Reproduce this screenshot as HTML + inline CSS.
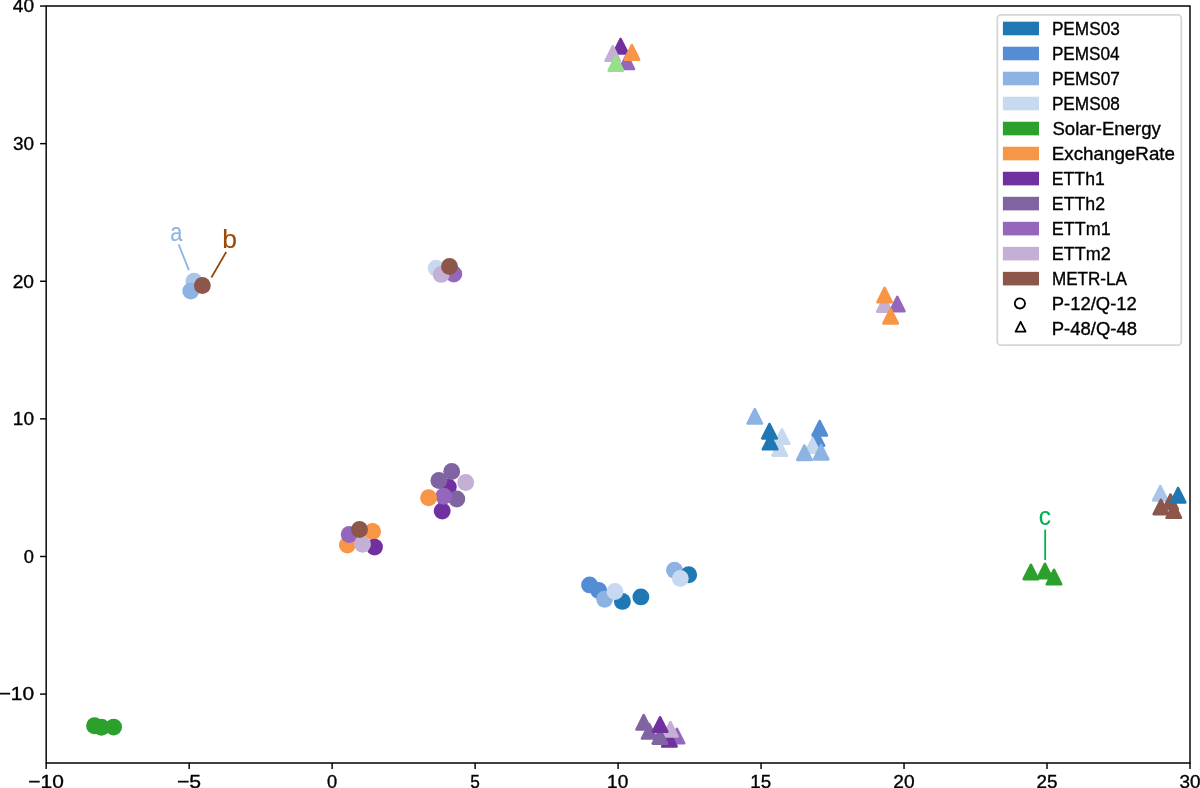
<!DOCTYPE html><html><head><meta charset="utf-8"><style>html,body{margin:0;padding:0;background:#fff;}svg{display:block;will-change:transform;}text{font-family:"Liberation Sans",sans-serif;}</style></head><body>
<svg width="1200" height="788" viewBox="0 0 1200 788">
<rect width="1200" height="788" fill="#fff"/>
<g>
<circle cx="194.0" cy="281.3" r="8.45" fill="#a9c5e9"/>
<circle cx="190.75" cy="290.95" r="8.45" fill="#8db3e2"/>
<circle cx="202.35" cy="285.5" r="8.45" fill="#8c564b"/>
<circle cx="436.1" cy="268.2" r="8.45" fill="#c6d9f0"/>
<circle cx="453.8" cy="274.0" r="8.45" fill="#9467bd"/>
<circle cx="441.2" cy="274.4" r="8.45" fill="#c5b0d5"/>
<circle cx="449.5" cy="266.5" r="8.45" fill="#8c564b"/>
<circle cx="448.3" cy="487.0" r="8.45" fill="#7030a0"/>
<circle cx="442.2" cy="511.0" r="8.45" fill="#7030a0"/>
<circle cx="451.7" cy="471.5" r="8.45" fill="#8064a2"/>
<circle cx="438.9" cy="480.5" r="8.45" fill="#8064a2"/>
<circle cx="456.8" cy="499.0" r="8.45" fill="#8064a2"/>
<circle cx="443.7" cy="496.3" r="8.45" fill="#9467bd"/>
<circle cx="465.7" cy="482.5" r="8.45" fill="#c5b0d5"/>
<circle cx="428.6" cy="497.8" r="8.45" fill="#f79646"/>
<circle cx="372.6" cy="531.4" r="8.45" fill="#f79646"/>
<circle cx="347.4" cy="545.0" r="8.45" fill="#f79646"/>
<circle cx="374.5" cy="547.1" r="8.45" fill="#7030a0"/>
<circle cx="349.2" cy="534.5" r="8.45" fill="#9467bd"/>
<circle cx="362.5" cy="544.2" r="8.45" fill="#c5b0d5"/>
<circle cx="359.5" cy="529.5" r="8.45" fill="#8c564b"/>
<circle cx="589.6" cy="584.9" r="8.45" fill="#548dd4"/>
<circle cx="598.7" cy="590.4" r="8.45" fill="#548dd4"/>
<circle cx="604.6" cy="599.3" r="8.45" fill="#8db3e2"/>
<circle cx="622.4" cy="601.4" r="8.45" fill="#1f77b4"/>
<circle cx="640.9" cy="596.9" r="8.45" fill="#1f77b4"/>
<circle cx="615.0" cy="591.5" r="8.45" fill="#c6d9f0"/>
<circle cx="674.5" cy="570.3" r="8.45" fill="#8db3e2"/>
<circle cx="688.7" cy="574.8" r="8.45" fill="#1f77b4"/>
<circle cx="680.3" cy="578.5" r="8.45" fill="#c6d9f0"/>
<circle cx="94.5" cy="725.8" r="8.45" fill="#2ca02c"/>
<circle cx="101.4" cy="727.2" r="8.45" fill="#2ca02c"/>
<circle cx="113.6" cy="727.1" r="8.45" fill="#2ca02c"/>
</g><g stroke-linejoin="round" stroke-width="2.6">
<path d="M620.60,39.00L613.40,53.40L627.80,53.40Z" fill="#7030a0" stroke="#7030a0"/>
<path d="M612.70,46.40L605.50,60.80L619.90,60.80Z" fill="#c5b0d5" stroke="#c5b0d5"/>
<path d="M626.80,54.60L619.60,69.00L634.00,69.00Z" fill="#9467bd" stroke="#9467bd"/>
<path d="M631.90,45.20L624.70,59.60L639.10,59.60Z" fill="#f79646" stroke="#f79646"/>
<path d="M615.90,56.20L608.70,70.60L623.10,70.60Z" fill="#98df8a" stroke="#98df8a"/>
<path d="M884.40,297.20L877.20,311.60L891.60,311.60Z" fill="#c5b0d5" stroke="#c5b0d5"/>
<path d="M897.30,296.90L890.10,311.30L904.50,311.30Z" fill="#9467bd" stroke="#9467bd"/>
<path d="M884.60,287.90L877.40,302.30L891.80,302.30Z" fill="#f79646" stroke="#f79646"/>
<path d="M890.60,309.00L883.40,323.40L897.80,323.40Z" fill="#f79646" stroke="#f79646"/>
<path d="M754.80,409.10L747.60,423.50L762.00,423.50Z" fill="#8db3e2" stroke="#8db3e2"/>
<path d="M782.00,429.30L774.80,443.70L789.20,443.70Z" fill="#c6d9f0" stroke="#c6d9f0"/>
<path d="M779.70,441.30L772.50,455.70L786.90,455.70Z" fill="#c6d9f0" stroke="#c6d9f0"/>
<path d="M769.50,424.00L762.30,438.40L776.70,438.40Z" fill="#1f77b4" stroke="#1f77b4"/>
<path d="M770.10,434.90L762.90,449.30L777.30,449.30Z" fill="#1f77b4" stroke="#1f77b4"/>
<path d="M816.90,431.30L809.70,445.70L824.10,445.70Z" fill="#548dd4" stroke="#548dd4"/>
<path d="M812.60,438.30L805.40,452.70L819.80,452.70Z" fill="#c6d9f0" stroke="#c6d9f0"/>
<path d="M819.70,421.00L812.50,435.40L826.90,435.40Z" fill="#548dd4" stroke="#548dd4"/>
<path d="M804.40,445.50L797.20,459.90L811.60,459.90Z" fill="#8db3e2" stroke="#8db3e2"/>
<path d="M821.10,445.00L813.90,459.40L828.30,459.40Z" fill="#8db3e2" stroke="#8db3e2"/>
<path d="M1160.30,486.00L1153.10,500.40L1167.50,500.40Z" fill="#a9c5e9" stroke="#a9c5e9"/>
<path d="M1160.90,499.80L1153.70,514.20L1168.10,514.20Z" fill="#8c564b" stroke="#8c564b"/>
<path d="M1170.50,494.50L1163.30,508.90L1177.70,508.90Z" fill="#8c564b" stroke="#8c564b"/>
<path d="M1173.80,503.40L1166.60,517.80L1181.00,517.80Z" fill="#8c564b" stroke="#8c564b"/>
<path d="M1178.10,488.00L1170.90,502.40L1185.30,502.40Z" fill="#1f77b4" stroke="#1f77b4"/>
<path d="M1030.90,564.80L1023.70,579.20L1038.10,579.20Z" fill="#2ca02c" stroke="#2ca02c"/>
<path d="M1044.90,563.80L1037.70,578.20L1052.10,578.20Z" fill="#2ca02c" stroke="#2ca02c"/>
<path d="M1054.00,569.90L1046.80,584.30L1061.20,584.30Z" fill="#2ca02c" stroke="#2ca02c"/>
<path d="M643.70,715.10L636.50,729.50L650.90,729.50Z" fill="#8064a2" stroke="#8064a2"/>
<path d="M649.20,724.10L642.00,738.50L656.40,738.50Z" fill="#8064a2" stroke="#8064a2"/>
<path d="M676.90,728.80L669.70,743.20L684.10,743.20Z" fill="#9467bd" stroke="#9467bd"/>
<path d="M669.40,732.10L662.20,746.50L676.60,746.50Z" fill="#7030a0" stroke="#7030a0"/>
<path d="M670.40,722.10L663.20,736.50L677.60,736.50Z" fill="#c5b0d5" stroke="#c5b0d5"/>
<path d="M659.90,729.30L652.70,743.70L667.10,743.70Z" fill="#8064a2" stroke="#8064a2"/>
<path d="M660.10,717.30L652.90,731.70L667.30,731.70Z" fill="#7030a0" stroke="#7030a0"/>
</g>
<line x1="178.6" y1="244.4" x2="188.9" y2="270.2" stroke="#8db3e2" stroke-width="1.8"/>
<line x1="226.2" y1="252.0" x2="211.4" y2="277.5" stroke="#984807" stroke-width="1.8"/>
<line x1="1045.2" y1="529.6" x2="1045.2" y2="560.0" stroke="#00b050" stroke-width="1.8"/>
<text x="170.27" y="240.92" font-size="25.45" textLength="12.15" lengthAdjust="spacingAndGlyphs" fill="#8db3e2" stroke="#8db3e2" stroke-width="0.12">a</text>
<text x="222.15" y="247.55" font-size="25.62" textLength="14.72" lengthAdjust="spacingAndGlyphs" fill="#984807" stroke="#984807" stroke-width="0.12">b</text>
<text x="1038.73" y="524.52" font-size="25.45" textLength="12.15" lengthAdjust="spacingAndGlyphs" fill="#00b050" stroke="#00b050" stroke-width="0.12">c</text>
<path d="M46.17,6.04H1190.0V762.9H46.17Z" stroke="#000" stroke-width="1.45" fill="none"/>
<g stroke="#000" stroke-width="1.45">
<line x1="46.17" y1="762.9" x2="46.17" y2="769.00"/>
<line x1="189.15" y1="762.9" x2="189.15" y2="769.00"/>
<line x1="332.13" y1="762.9" x2="332.13" y2="769.00"/>
<line x1="475.11" y1="762.9" x2="475.11" y2="769.00"/>
<line x1="618.08" y1="762.9" x2="618.08" y2="769.00"/>
<line x1="761.06" y1="762.9" x2="761.06" y2="769.00"/>
<line x1="904.04" y1="762.9" x2="904.04" y2="769.00"/>
<line x1="1047.02" y1="762.9" x2="1047.02" y2="769.00"/>
<line x1="1190.00" y1="762.9" x2="1190.00" y2="769.00"/>
<line x1="40.07" y1="6.04" x2="46.17" y2="6.04"/>
<line x1="40.07" y1="143.65" x2="46.17" y2="143.65"/>
<line x1="40.07" y1="281.26" x2="46.17" y2="281.26"/>
<line x1="40.07" y1="418.87" x2="46.17" y2="418.87"/>
<line x1="40.07" y1="556.48" x2="46.17" y2="556.48"/>
<line x1="40.07" y1="694.09" x2="46.17" y2="694.09"/>
</g>
<text x="28.30" y="787.94" font-size="18.54" textLength="35.49" lengthAdjust="spacingAndGlyphs" fill="#000" stroke="#000" stroke-width="0.35">−10</text>
<text x="176.98" y="787.73" font-size="18.50" textLength="24.17" lengthAdjust="spacingAndGlyphs" fill="#000" stroke="#000" stroke-width="0.35">−5</text>
<text x="327.02" y="787.94" font-size="18.54" textLength="10.18" lengthAdjust="spacingAndGlyphs" fill="#000" stroke="#000" stroke-width="0.35">0</text>
<text x="470.34" y="787.73" font-size="18.50" textLength="9.57" lengthAdjust="spacingAndGlyphs" fill="#000" stroke="#000" stroke-width="0.35">5</text>
<text x="607.12" y="787.94" font-size="18.54" textLength="21.21" lengthAdjust="spacingAndGlyphs" fill="#000" stroke="#000" stroke-width="0.35">10</text>
<text x="750.32" y="787.73" font-size="18.50" textLength="20.86" lengthAdjust="spacingAndGlyphs" fill="#000" stroke="#000" stroke-width="0.35">15</text>
<text x="893.26" y="787.94" font-size="18.54" textLength="21.35" lengthAdjust="spacingAndGlyphs" fill="#000" stroke="#000" stroke-width="0.35">20</text>
<text x="1036.44" y="787.94" font-size="18.54" textLength="21.01" lengthAdjust="spacingAndGlyphs" fill="#000" stroke="#000" stroke-width="0.35">25</text>
<text x="1179.47" y="787.94" font-size="18.54" textLength="21.06" lengthAdjust="spacingAndGlyphs" fill="#000" stroke="#000" stroke-width="0.35">30</text>
<text x="12.78" y="12.42" font-size="18.54" textLength="21.26" lengthAdjust="spacingAndGlyphs" fill="#000" stroke="#000" stroke-width="0.35">40</text>
<text x="12.96" y="150.03" font-size="18.54" textLength="21.06" lengthAdjust="spacingAndGlyphs" fill="#000" stroke="#000" stroke-width="0.35">30</text>
<text x="12.69" y="287.64" font-size="18.54" textLength="21.35" lengthAdjust="spacingAndGlyphs" fill="#000" stroke="#000" stroke-width="0.35">20</text>
<text x="12.82" y="425.25" font-size="18.54" textLength="21.21" lengthAdjust="spacingAndGlyphs" fill="#000" stroke="#000" stroke-width="0.35">10</text>
<text x="23.82" y="562.86" font-size="18.54" textLength="10.18" lengthAdjust="spacingAndGlyphs" fill="#000" stroke="#000" stroke-width="0.35">0</text>
<text x="-1.39" y="700.47" font-size="18.54" textLength="35.49" lengthAdjust="spacingAndGlyphs" fill="#000" stroke="#000" stroke-width="0.35">−10</text>
<rect x="997.35" y="14.9" width="183.95" height="330.2" rx="3.47" ry="3.47" fill="#fff" fill-opacity="0.8" stroke="#d6d6d6" stroke-width="1.75"/>
<rect x="1002.9" y="21.67" width="36.1" height="13.6" fill="#1f77b4"/>
<text x="1051.89" y="34.50" font-size="18.4" textLength="67.98" lengthAdjust="spacingAndGlyphs" fill="#000" stroke="#000" stroke-width="0.35">PEMS03</text>
<rect x="1002.9" y="46.69" width="36.1" height="13.6" fill="#548dd4"/>
<text x="1051.89" y="59.52" font-size="18.4" textLength="67.73" lengthAdjust="spacingAndGlyphs" fill="#000" stroke="#000" stroke-width="0.35">PEMS04</text>
<rect x="1002.9" y="71.70" width="36.1" height="13.6" fill="#8db3e2"/>
<text x="1051.89" y="84.53" font-size="18.4" textLength="68.08" lengthAdjust="spacingAndGlyphs" fill="#000" stroke="#000" stroke-width="0.35">PEMS07</text>
<rect x="1002.9" y="96.72" width="36.1" height="13.6" fill="#c6d9f0"/>
<text x="1051.89" y="109.55" font-size="18.4" textLength="67.98" lengthAdjust="spacingAndGlyphs" fill="#000" stroke="#000" stroke-width="0.35">PEMS08</text>
<rect x="1002.9" y="121.74" width="36.1" height="13.6" fill="#2ca02c"/>
<text x="1052.45" y="134.57" font-size="18.4" textLength="108.39" lengthAdjust="spacingAndGlyphs" fill="#000" stroke="#000" stroke-width="0.35">Solar-Energy</text>
<rect x="1002.9" y="146.75" width="36.1" height="13.6" fill="#f79646"/>
<text x="1051.76" y="159.58" font-size="18.4" textLength="123.27" lengthAdjust="spacingAndGlyphs" fill="#000" stroke="#000" stroke-width="0.35">ExchangeRate</text>
<rect x="1002.9" y="171.77" width="36.1" height="13.6" fill="#7030a0"/>
<text x="1051.85" y="184.60" font-size="18.4" textLength="52.91" lengthAdjust="spacingAndGlyphs" fill="#000" stroke="#000" stroke-width="0.35">ETTh1</text>
<rect x="1002.9" y="196.79" width="36.1" height="13.6" fill="#8064a2"/>
<text x="1051.84" y="209.62" font-size="18.4" textLength="53.26" lengthAdjust="spacingAndGlyphs" fill="#000" stroke="#000" stroke-width="0.35">ETTh2</text>
<rect x="1002.9" y="221.81" width="36.1" height="13.6" fill="#9467bd"/>
<text x="1051.83" y="234.64" font-size="18.4" textLength="58.83" lengthAdjust="spacingAndGlyphs" fill="#000" stroke="#000" stroke-width="0.35">ETTm1</text>
<rect x="1002.9" y="246.82" width="36.1" height="13.6" fill="#c5b0d5"/>
<text x="1051.82" y="259.65" font-size="18.4" textLength="59.08" lengthAdjust="spacingAndGlyphs" fill="#000" stroke="#000" stroke-width="0.35">ETTm2</text>
<rect x="1002.9" y="271.84" width="36.1" height="13.6" fill="#8c564b"/>
<text x="1051.90" y="284.67" font-size="18.4" textLength="75.06" lengthAdjust="spacingAndGlyphs" fill="#000" stroke="#000" stroke-width="0.35">METR-LA</text>
<text x="1051.79" y="309.69" font-size="18.4" textLength="85.02" lengthAdjust="spacingAndGlyphs" fill="#000" stroke="#000" stroke-width="0.35">P-12/Q-12</text>
<text x="1051.78" y="334.70" font-size="18.4" textLength="85.27" lengthAdjust="spacingAndGlyphs" fill="#000" stroke="#000" stroke-width="0.35">P-48/Q-48</text>
<circle cx="1019.9" cy="303.4" r="5.1" fill="none" stroke="#000" stroke-width="1.8"/>
<path d="M1020.6,321.8L1015.6,331.6L1025.6,331.6Z" fill="none" stroke="#000" stroke-width="1.8" stroke-linejoin="round"/>
</svg></body></html>
